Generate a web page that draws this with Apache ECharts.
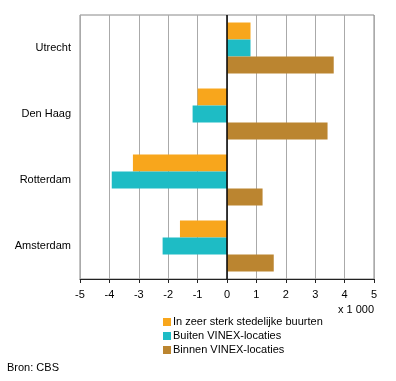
<!DOCTYPE html>
<html><head><meta charset="utf-8">
<script src="https://cdn.jsdelivr.net/npm/echarts@6/dist/echarts.min.js"></script>
<style>html,body{margin:0;padding:0;background:#fff}#c{width:396px;height:381px}</style>
</head><body><div id="c"></div>
<script>
const categories = ["Utrecht", "Den Haag", "Rotterdam", "Amsterdam"];
const seriesNames = ["In zeer sterk stedelijke buurten", "Buiten VINEX-locaties", "Binnen VINEX-locaties"];
const zeerSterk = [0.8, -1.0, -3.2, -1.6];
const buitenVinex = [0.8, -1.17, -3.92, -2.19];
const binnenVinex = [3.63, 3.42, 1.21, 1.59];
const xTicks = [-5, -4, -3, -2, -1, 0, 1, 2, 3, 4, 5];
const colors = ["#F8A61C", "#1EBCC5", "#BB8530"];
const font = "Liberation Sans, Arial, sans-serif";

const chart = echarts.init(document.getElementById('c'), null, {renderer: 'canvas'});
const values = [zeerSterk, buitenVinex, binnenVinex];
chart.setOption({
  animation: false,
  textStyle: {fontFamily: font},
  grid: {left: 80, right: 22, top: 15, bottom: 102, show: true, borderColor: '#888', borderWidth: 1},
  legend: {
    orient: 'vertical', left: 158, top: 311, itemWidth: 8, itemHeight: 8, itemGap: 2,
    icon: 'rect', textStyle: {fontSize: 11, lineHeight: 12, color: '#000', fontFamily: font, padding: [0,0,0,-3]},
    data: seriesNames
  },
  xAxis: {
    type: 'value', min: xTicks[0], max: xTicks[xTicks.length-1], interval: 1,
    axisLine: {show: true, onZero: false, lineStyle: {color: '#222'}},
    axisTick: {show: true, length: 4, lineStyle: {color: '#222'}},
    axisLabel: {color: '#000', fontSize: 11, fontFamily: font, margin: 10},
    splitLine: {show: true, lineStyle: {color: '#aaa'}}
  },
  yAxis: {
    type: 'category', inverse: true, data: categories,
    axisLine: {show: false}, axisTick: {show: false},
    axisLabel: {color: '#000', fontSize: 11, fontFamily: font, margin: 9}
  },
  graphic: [
    {type: 'text', right: 22, top: 304, style: {text: 'x 1 000', fontSize: 11, fontFamily: font, fill: '#000'}},
    {type: 'text', left: 7, top: 362, style: {text: 'Bron: CBS', fontSize: 11, fontFamily: font, fill: '#000'}}
  ],
  series: seriesNames.map((n, i) => ({
    name: n, type: 'bar', data: values[i], barWidth: 17, barGap: '0%',
    itemStyle: {color: colors[i]},
    markLine: i === 0 ? {silent: true, symbol: 'none', label: {show: false},
      lineStyle: {color: '#000', type: 'solid', width: 1.5}, data: [{xAxis: 0}]} : undefined
  }))
});
</script></body></html>
